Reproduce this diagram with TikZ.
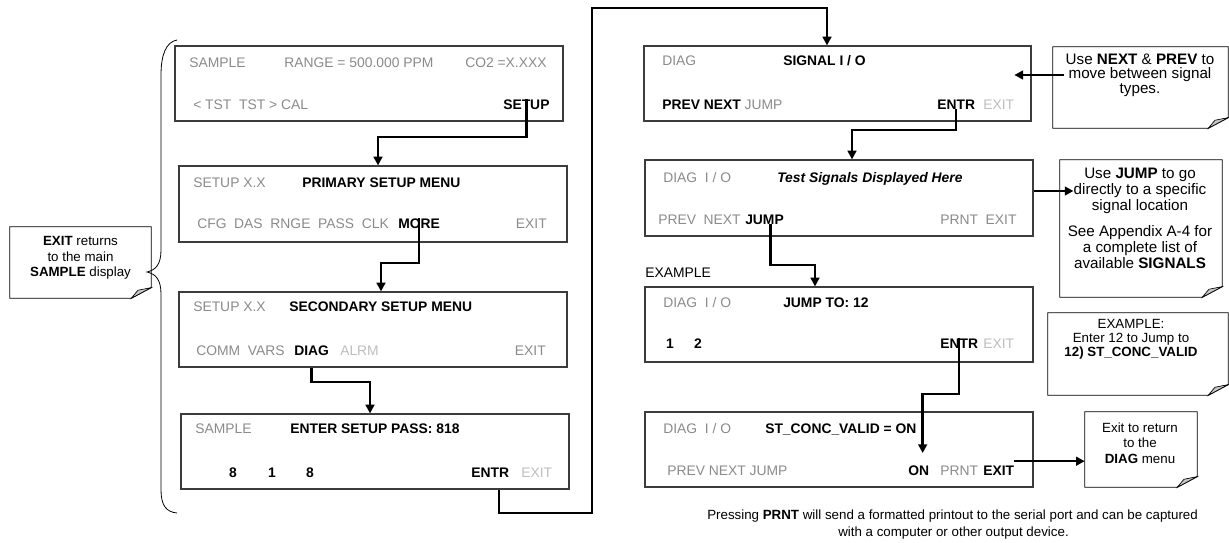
\documentclass[tikz,border=0pt]{standalone}
\usepackage{fontspec}
\setmainfont{Liberation Sans}
\usetikzlibrary{arrows.meta,positioning,fit,calc}
\definecolor{softgray}{HTML}{8A8A8A}
\definecolor{faintgray}{HTML}{BDBDBD}
\definecolor{framegray}{HTML}{3C3C3C}
\definecolor{foldgray}{HTML}{C8C8C8}

\begin{document}
\begin{tikzpicture}[
    x=0.75pt, y=-0.75pt,
    every node/.style={font=\fontsize{10.4}{12}\selectfont},
    screen/.style={draw=framegray, line width=0.9pt, inner sep=0pt},
    notebox/.style={inner sep=0pt},
    soft/.style={anchor=base west, inner sep=0pt, text=softgray},
    faint/.style={soft, text=faintgray},
    hot/.style={soft, text=black, font=\fontsize{10.4}{12}\selectfont\bfseries},
    notetxt/.style={align=center, inner sep=0pt, font=\fontsize{10}{11.5}\selectfont},
    bignote/.style={notetxt, font=\fontsize{11.4}{12}\selectfont},
    link/.style={-{Triangle[length=6.5pt,width=6.5pt]}, line width=1.8pt}
  ]
  \useasboundingbox (0,0) rectangle (1229,543);

  % left column: setup menus
  \node[screen, fit={(175,46) (563,121)}] (sample) {};
  \node[soft] (s1a) at (189,67) {SAMPLE};
  \node[soft] (s1b) at (284,67) {RANGE = 500.000 PPM};
  \node[soft] (s1c) at (465,67) {CO2 =X.XXX};
  \node[soft] (s1d) at (193,109) {< TST\ \ TST > CAL};
  \node[hot] (setupkey) at (503,109) {SETUP};

  \node[screen, fit={(179,166) (567,242)}] (primary) {};
  \node[soft] (s2a) at (193,187) {SETUP X.X};
  \node[hot] (s2b) at (302,187) {PRIMARY SETUP MENU};
  \node[soft] (s2c) at (197,228) {CFG\ \ DAS\ \ RNGE\ \ PASS\ \ CLK};
  \node[hot] (morekey) at (398,228) {MORE};
  \node[soft, anchor=base east] (s2d) at (547,228) {EXIT};

  \node[screen, fit={(179,292) (567,367)}] (secondary) {};
  \node[soft] (s3a) at (193,311) {SETUP X.X};
  \node[hot] (s3b) at (289,311) {SECONDARY SETUP MENU};
  \node[soft] (s3c) at (196,355) {COMM\ \ VARS};
  \node[hot] (diagkey) at (294,355) {DIAG};
  \node[faint] (s3d) at (340,355) {ALRM};
  \node[soft, anchor=base east] (s3e) at (546,355) {EXIT};

  \node[screen, fit={(181,414) (569,489)}] (pass) {};
  \node[soft] (s4a) at (195,433) {SAMPLE};
  \node[hot] (s4b) at (290,433) {ENTER SETUP PASS: 818};
  \node[hot, anchor=base] (d1) at (233,477) {8};
  \node[hot, anchor=base] (d2) at (272,477) {1};
  \node[hot, anchor=base] (d3) at (310,477) {8};
  \node[hot] (entrkey) at (471,477) {ENTR};
  \node[faint] (s4c) at (521,477) {EXIT};

  % right column: signal i/o
  \node[screen, fit={(644,46) (1031,121)}] (signal) {};
  \node[soft] (s5a) at (662,65) {DIAG};
  \node[hot] (s5b) at (783,65) {SIGNAL I / O};
  \node[soft] (s5c) at (662,109) {{\bfseries\color{black}PREV NEXT} JUMP};
  \node[hot] (sigentr) at (937,109) {ENTR};
  \node[faint] (sigexit) at (983,109) {EXIT};

  \node[screen, fit={(645,160) (1033,236)}] (testsig) {};
  \node[soft] (s6a) at (663,182) {DIAG\ \ I / O};
  \node[hot, font=\fontsize{10.4}{12}\selectfont\bfseries\itshape] (s6b) at (777,182) {Test Signals Displayed Here};
  \node[soft] (s6c) at (658,224) {PREV\ \ NEXT};
  \node[hot] (jumpkey) at (745,224) {JUMP};
  \node[soft] (s6d) at (940,224) {PRNT\ \ EXIT};

  \node[anchor=base west, inner sep=0pt] (exlbl) at (645,277) {EXAMPLE};

  \node[screen, fit={(645,287) (1033,362)}] (jumpto) {};
  \node[soft] (s7a) at (663,307) {DIAG\ \ I / O};
  \node[hot] (s7b) at (783,307) {JUMP TO: 12};
  \node[hot, anchor=base] (s7c) at (670,348) {1};
  \node[hot, anchor=base] (s7d) at (698,348) {2};
  \node[hot] (jmpentr) at (940,348) {ENTR};
  \node[faint] (s7e) at (983,348) {EXIT};

  \node[screen, fit={(645,412) (1033,487)}] (concvalid) {};
  \node[soft] (s8a) at (663,433) {DIAG\ \ I / O};
  \node[hot] (s8b) at (765,433) {ST\_CONC\_VALID = ON};
  \node[soft] (s8c) at (667,475) {PREV NEXT JUMP};
  \node[hot] (onkey) at (908,475) {ON};
  \node[soft] (s8d) at (940,475) {PRNT};
  \node[hot] (exitkey) at (983,475) {EXIT};

  % notes with folded corner
  \node[notebox, fit={(10,227) (151,298)}] (exitnote) {};
  \node[notetxt] (exittxt) at (80.5,258) {\textbf{EXIT} returns\\to the main\\\textbf{SAMPLE} display};
  \node[notebox, fit={(1053,47) (1228,128)}] (nextnote) {};
  \node[bignote, font=\fontsize{11.4}{10.8}\selectfont] (nexttxt) at (1140,75) {Use \textbf{NEXT} \& \textbf{PREV} to\\move between signal\\types.};
  \node[notebox, fit={(1060,160) (1222,297)}] (jumpnote) {};
  \node[bignote] (jumptxta) at (1140,191) {Use \textbf{JUMP} to go\\directly to a specific\\signal location};
  \node[bignote] (jumptxtb) at (1140,247) {See Appendix A-4 for\\a complete list of\\available \textbf{SIGNALS}};
  \node[notebox, fit={(1048,313) (1228,395)}] (examplenote) {};
  \node[notetxt, font=\fontsize{10}{10.4}\selectfont] (exampletxt) at (1131,339) {EXAMPLE:\\Enter 12 to Jump to\\\textbf{12) ST\_CONC\_VALID}};
  \node[notebox, fit={(1085,412) (1197,487)}] (diagnote) {};
  \node[notetxt] (diagtxt) at (1140,443) {Exit to return\\to the\\\textbf{DIAG} menu};

  \foreach \n in {exitnote,nextnote,jumpnote,examplenote,diagnote}{
    \draw[line width=0.7pt] (\n.north west) -- (\n.north east) -- ([yshift=8pt]\n.south east)
      -- ([xshift=-15pt]\n.south east) -- (\n.south west) -- cycle;
    \filldraw[fill=foldgray, line width=0.5pt] ([xshift=-15pt]\n.south east)
      -- ([xshift=-10pt,yshift=6pt]\n.south east) -- ([yshift=8pt]\n.south east) -- cycle;
  }

  \node[anchor=base west, inner sep=0pt, font=\fontsize{10}{11}\selectfont] (prnt1) at (707,519)
    {Pressing \textbf{PRNT} will send a formatted printout to the serial port and can be captured};
  \node[anchor=base west, inner sep=0pt, font=\fontsize{10}{11}\selectfont] (prnt2) at (838,536)
    {with a computer or other output device.};

  % brace
  \draw[line width=0.6pt] (177,40) .. controls (166,42) and (161,55) .. (161,75) -- (161,250)
    .. controls (161,264) and (156,270) .. (147,272) .. controls (156,274) and (161,280) .. (161,294)
    -- (161,490) .. controls (161,505) and (166,512) .. (177,513);

  % connectors
  \draw[link] (setupkey.north) |- (378,137) -- (primary.north -| 378,0);
  \draw[link] (morekey.north) |- (381,263) -- (secondary.north -| 381,0);
  \draw[link] (diagkey.south |- secondary.south) |- (370,382) -- (pass.north -| 370,0);
  \coordinate (entrdrop) at ([xshift=6.5pt]entrkey.south);
  \draw[link] (entrdrop |- pass.south) |- (592,513) |- (827,8) -- (signal.north -| 827,0);
  \draw[link] (sigentr.south) |- (852,130) -- (testsig.north -| 852,0);
  \coordinate (jumpdrop) at ([xshift=4.5pt]jumpkey.south);
  \draw[link] (jumpdrop) |- (815,265) -- (jumpto.north -| 815,0);
  \coordinate (ontip) at ([xshift=3pt,yshift=9pt]onkey.north);
  \draw[link] (jmpentr.north) |- (ontip |- 0,394) -- (ontip);
  \coordinate (exitout) at ([yshift=3pt]exitkey.north east);
  \draw[link] (exitout) -- (exitout -| diagnote.west);
  \draw[link] ([xshift=-1pt]nexttxt.west) -- (nexttxt.west -| sigexit.east);
  \draw[link] (jumptxta.west -| testsig.east) -- (jumptxta.west);
\end{tikzpicture}
\end{document}
